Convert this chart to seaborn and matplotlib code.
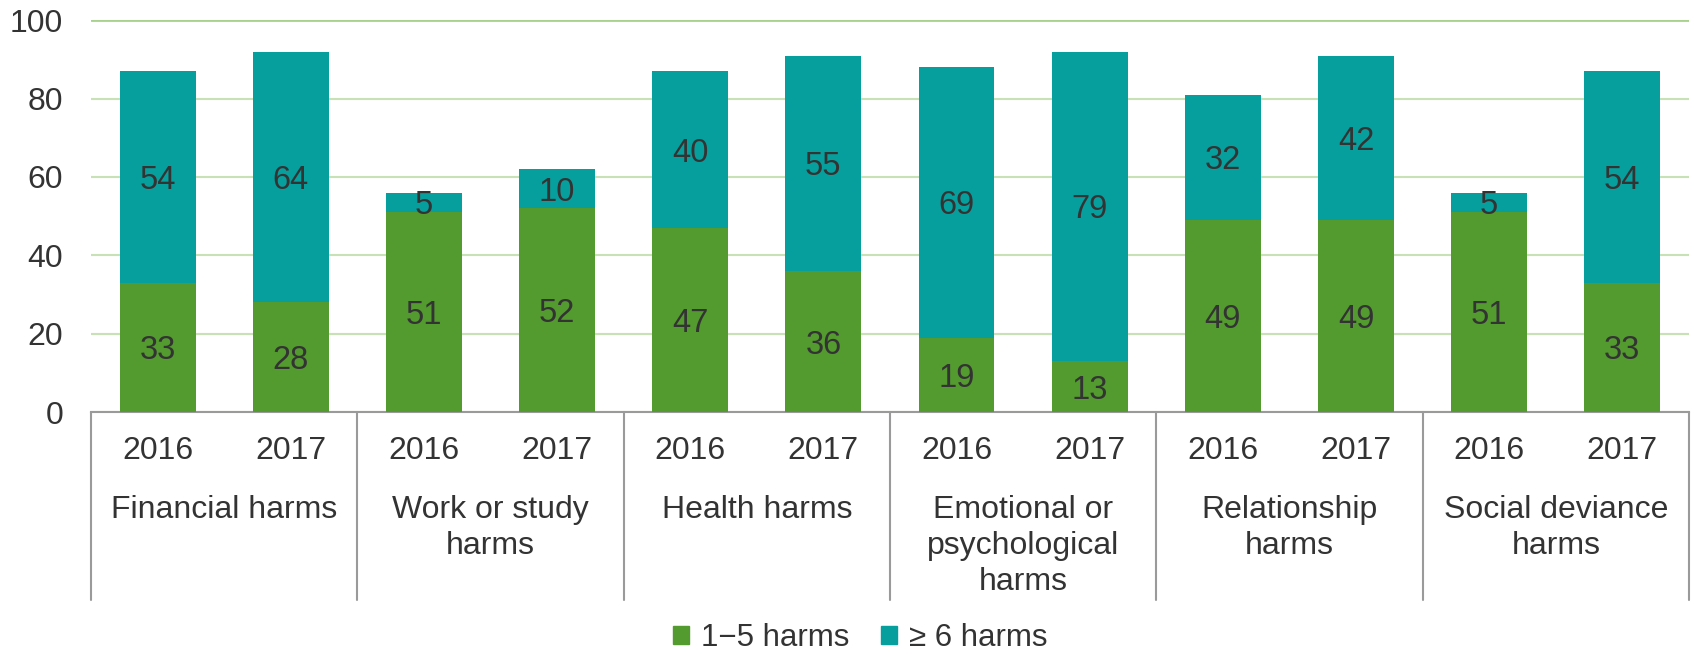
"""Stacked bar chart: harms by type, 2016 vs 2017."""
import numpy as np
import pandas as pd
import matplotlib
matplotlib.use('Agg')
import matplotlib.pyplot as plt
import matplotlib.transforms as mtransforms
from matplotlib.patches import Patch
import seaborn as sns

# Data
groups = ["Financial harms", "Work or study\nharms", "Health harms",
          "Emotional or\npsychological\nharms", "Relationship\nharms",
          "Social deviance\nharms"]
years = ["2016", "2017"]
low_harms = [33, 28, 51, 52, 47, 36, 19, 13, 49, 49, 51, 33]      # 1-5 harms
high_harms = [54, 64, 5, 10, 40, 55, 69, 79, 32, 42, 5, 54]       # >= 6 harms

GREEN = "#539A2F"
TEAL = "#079F9D"
TEXT = "#333333"

sns.set_style("white")
plt.rcParams['font.family'] = ['Liberation Sans', 'DejaVu Sans']

keys = [f"{g}|{y}" for g in groups for y in years]
df = pd.DataFrame({
    "key": keys,
    "year": [y for g in groups for y in years],
    "low": low_harms,
    "high": high_harms,
})
df["total"] = df["low"] + df["high"]

fig = plt.figure(figsize=(16.94, 6.54), dpi=100)
ax = fig.add_axes([0.0537, 0.370, 0.9433, 0.599])

# Totals in teal, then the 1-5 part in green on top of it
sns.barplot(data=df, x="key", y="total", order=keys, color=TEAL,
            width=0.57, saturation=1, linewidth=0, ax=ax, zorder=2)
sns.barplot(data=df, x="key", y="low", order=keys, color=GREEN,
            width=0.57, saturation=1, linewidth=0, ax=ax, zorder=3)

# Segment labels
for i, row in df.iterrows():
    ax.text(i, row["low"] / 2, str(row["low"]), ha='center',
            va='center_baseline', fontsize=23.5, color=TEXT, zorder=5)
    ax.text(i, row["low"] + row["high"] / 2, str(row["high"]), ha='center',
            va='center_baseline', fontsize=23.5, color=TEXT, zorder=5)

ax.set_ylim(0, 100)
ax.set_xlim(-0.5, len(keys) - 0.5)
ax.set_yticks(np.arange(0, 101, 20))
ax.yaxis.grid(True, color="#C8E1B7", linewidth=1.5, zorder=0)
ax.axhline(100, color="#A9D18E", linewidth=2, zorder=1)
ax.set_axisbelow(True)
for s in ["left", "right", "top"]:
    ax.spines[s].set_visible(False)
ax.spines["bottom"].set_color("#9A9A9A")
ax.spines["bottom"].set_linewidth(1.5)

ax.set_xticks(range(len(keys)))
ax.set_xticklabels(df["year"])
ax.tick_params(axis='x', length=0, pad=17, labelsize=23, labelcolor=TEXT)
ax.tick_params(axis='y', length=0, pad=20, labelsize=23, labelcolor=TEXT)
ax.set_xlabel("")
ax.set_ylabel("")

# Group labels and separators under the axis
trans = mtransforms.blended_transform_factory(ax.transData, ax.transAxes)
for gi, g in enumerate(groups):
    ax.text(2 * gi + 0.5, -0.212, g, transform=trans, ha='center', va='top',
            fontsize=23, color=TEXT, linespacing=1.25)
for b in np.arange(-0.5, len(keys), 2):
    ax.plot([b, b], [0, -0.48], transform=trans, color="#9A9A9A",
            linewidth=1.5, clip_on=False)

handles = [Patch(color=GREEN, label="1\u22125 harms"),
           Patch(color=TEAL, label="\u2265 6 harms")]
fig.legend(handles=handles, loc='center', bbox_to_anchor=(0.508, 0.024),
           ncol=2, frameon=False, fontsize=22.5, handlelength=0.5,
           handleheight=0.5, handletextpad=0.4, columnspacing=1.0,
           labelcolor=TEXT)

fig.savefig("out.png", dpi=100)
plt.close(fig)
